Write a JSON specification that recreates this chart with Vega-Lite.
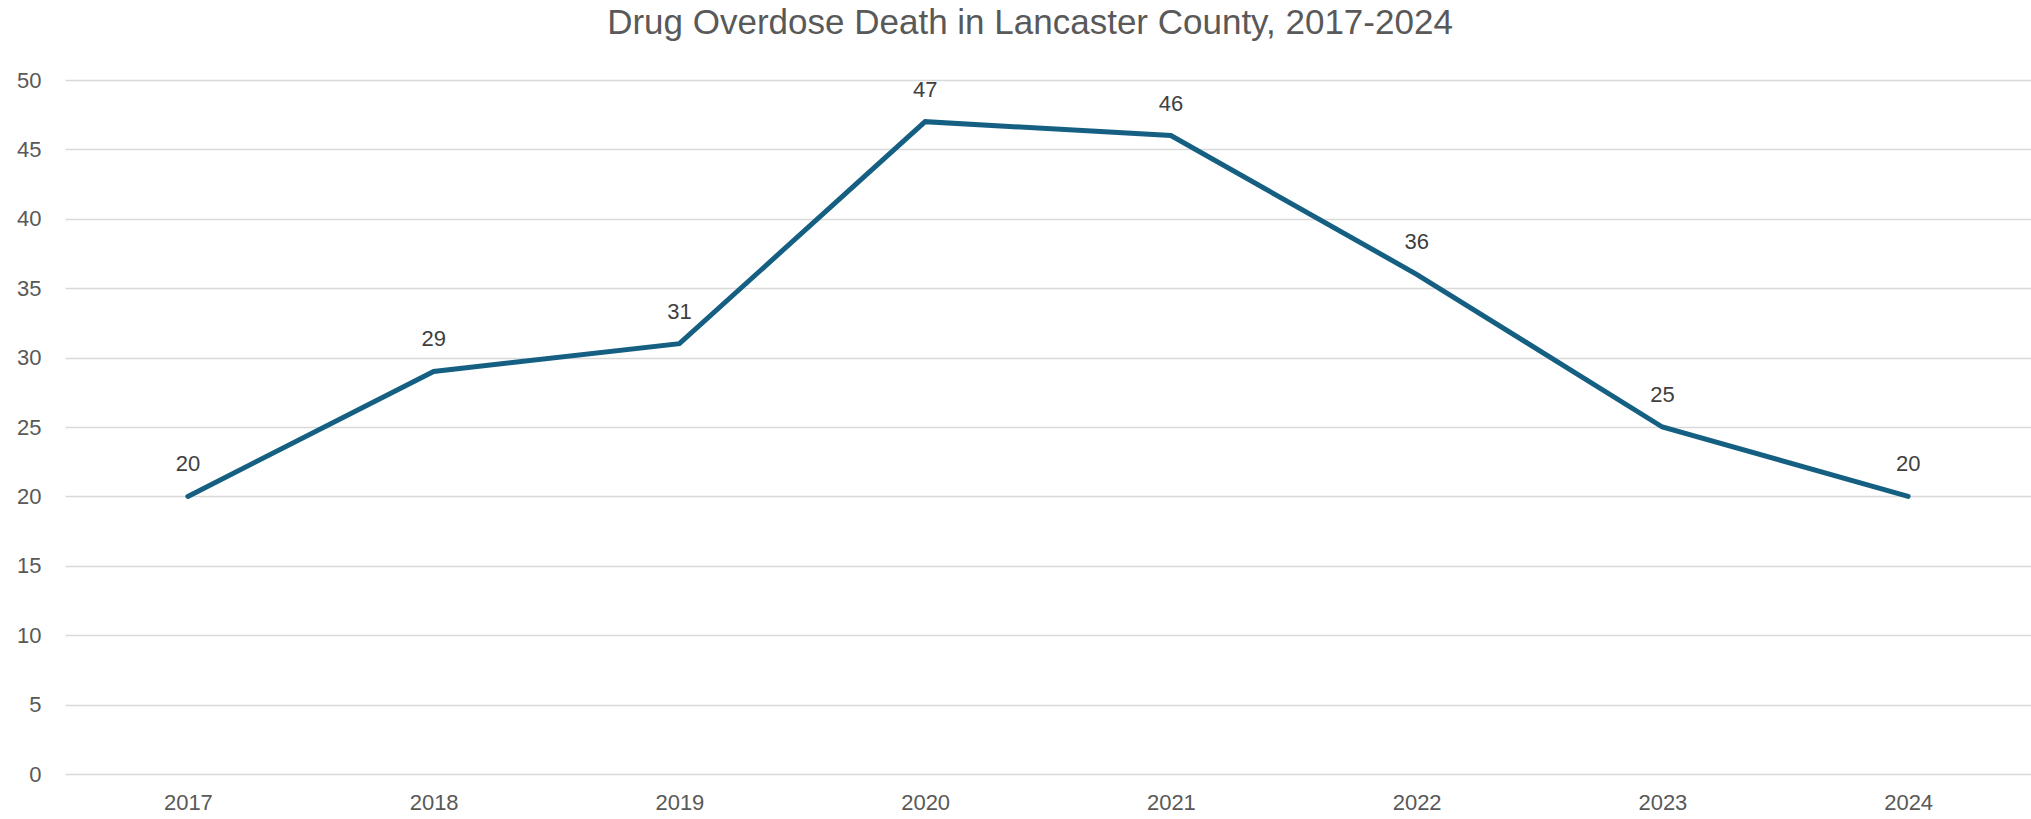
{
  "$schema": "https://vega.github.io/schema/vega-lite/v6.json",
  "autosize": {"type": "none"},
  "padding": {"left": 65, "top": 80, "right": 0, "bottom": 45},
  "width": 1966,
  "height": 694,
  "background": "white",
  "title": {
    "text": "Drug Overdose Death in Lancaster County, 2017-2024",
    "font": "Liberation Sans",
    "fontSize": 35,
    "fontWeight": "normal",
    "color": "#595959",
    "anchor": "middle",
    "baseline": "alphabetic",
    "dx": -18,
    "offset": 0
  },
  "data": {
    "values": [
      {"year": "2017", "deaths": 20},
      {"year": "2018", "deaths": 29},
      {"year": "2019", "deaths": 31},
      {"year": "2020", "deaths": 47},
      {"year": "2021", "deaths": 46},
      {"year": "2022", "deaths": 36},
      {"year": "2023", "deaths": 25},
      {"year": "2024", "deaths": 20}
    ]
  },
  "config": {
    "view": {"stroke": null},
    "axis": {
      "labelFont": "Liberation Sans",
      "labelFontSize": 22,
      "labelColor": "#595959",
      "domain": false,
      "ticks": false,
      "title": null
    }
  },
  "encoding": {
    "x": {
      "field": "year",
      "type": "ordinal",
      "scale": {"type": "point", "padding": 0.5},
      "axis": {"labelAngle": 0, "labelPadding": 18, "grid": false}
    },
    "y": {
      "field": "deaths",
      "type": "quantitative",
      "scale": {"domain": [0, 50], "nice": false},
      "axis": {
        "values": [0, 5, 10, 15, 20, 25, 30, 35, 40, 45, 50],
        "labelPadding": 24,
        "grid": true,
        "gridColor": "#d9d9d9",
        "gridWidth": 1.5
      }
    }
  },
  "layer": [
    {
      "mark": {"type": "line", "color": "#156082", "strokeWidth": 5, "strokeCap": "round", "strokeJoin": "miter"}
    },
    {
      "mark": {"type": "text", "font": "Liberation Sans", "fontSize": 22, "color": "#404040", "baseline": "middle", "dy": -32},
      "encoding": {"text": {"field": "deaths", "type": "quantitative"}}
    }
  ]
}
